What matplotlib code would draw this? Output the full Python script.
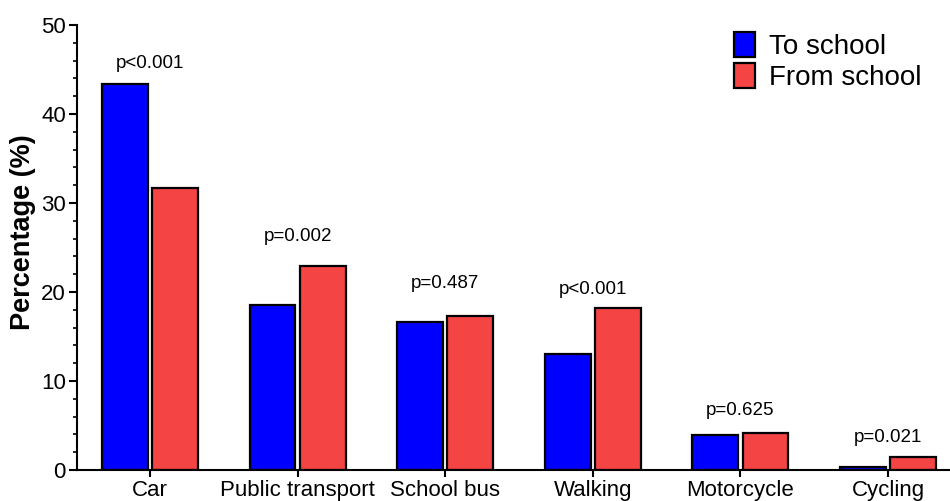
import numpy as np
import matplotlib.pyplot as plt
from matplotlib.ticker import MultipleLocator

plt.rcParams['font.family'] = ['Liberation Sans', 'DejaVu Sans']

# Modo de transporte a la escuela / desde la escuela (%)
modes = ['Car', 'Public transport', 'School bus', 'Walking', 'Motorcycle', 'Cycling']
to_school = [43.4, 18.5, 16.6, 13.0, 3.9, 0.3]
from_school = [31.7, 22.9, 17.3, 18.2, 4.2, 1.4]
p_text = ['p<0.001', 'p=0.002', 'p=0.487', 'p<0.001', 'p=0.625', 'p=0.021']
p_y = [45.7, 26.2, 21.0, 20.3, 6.7, 3.7]

x = np.arange(len(modes))
w = 0.31

fig = plt.figure(figsize=(9.5, 5.01), dpi=100)
ax = fig.add_axes([0.081, 0.062, 0.919, 0.888])

ax.bar(x - 0.17, to_school, w, color='#0000FF', edgecolor='black', lw=1.6, label='To school')
ax.bar(x + 0.17, from_school, w, color='#F44444', edgecolor='black', lw=1.6, label='From school')

for i in range(len(modes)):
    ax.text(x[i], p_y[i], p_text[i], ha='center', va='center', fontsize=13.5)

ax.set_xlim(-0.495, 5.42)
ax.set_ylim(0, 50)
ax.set_xticks(x)
ax.set_xticklabels(modes, fontsize=16)
ax.yaxis.set_major_locator(MultipleLocator(10))
ax.yaxis.set_minor_locator(MultipleLocator(2))
ax.tick_params(axis='y', labelsize=16, width=1.5, length=6, pad=2)
ax.tick_params(axis='y', which='minor', width=1.2, length=3)
ax.tick_params(axis='x', width=1.5, length=5, pad=2)
ax.set_ylabel('Percentage (%)', fontsize=19.5, fontweight='bold')
ax.yaxis.set_label_coords(-0.047, 0.535)

for s in ['top', 'right']:
    ax.spines[s].set_visible(False)
for s in ['left', 'bottom']:
    ax.spines[s].set_linewidth(1.5)

ax.legend(loc='upper left', bbox_to_anchor=(0.752, 0.975), bbox_transform=fig.transFigure,
          fontsize=20, frameon=False, borderpad=0.2,
          handlelength=0.75, handleheight=1.0, handletextpad=0.5, labelspacing=0.12)

fig.savefig('out.png', dpi=100)
